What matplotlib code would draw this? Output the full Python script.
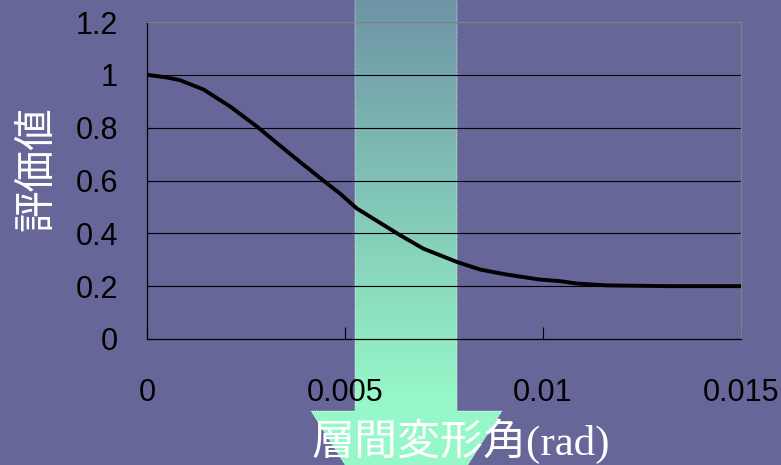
import numpy as np
import matplotlib
matplotlib.use('Agg')
import matplotlib.pyplot as plt
from matplotlib.patches import Polygon

# drift angle (rad) vs. evaluation value
drift = [0, 0.0005, 0.00083, 0.00142, 0.0021, 0.00277, 0.00319, 0.0037, 0.00445,
         0.00487, 0.0053, 0.00571, 0.00639, 0.00698, 0.00782, 0.00841, 0.00908,
         0.00992, 0.01043, 0.01085, 0.0116, 0.0132, 0.015]
score = [1.0, 0.99, 0.98, 0.945, 0.88, 0.805, 0.753, 0.69, 0.60,
         0.551, 0.494, 0.456, 0.393, 0.342, 0.292, 0.263, 0.244,
         0.225, 0.219, 0.21, 0.203, 0.2, 0.2]

xticks = [0, 0.005, 0.01, 0.015]
xticklabels = ["0", "0.005", "0.01", "0.015"]
yticks = [0, 0.2, 0.4, 0.6, 0.8, 1.0, 1.2]
yticklabels = ["0", "0.2", "0.4", "0.6", "0.8", "1", "1.2"]

bg = "#666699"
W, H = 781, 465
fig = plt.figure(figsize=(W / 100, H / 100), dpi=100, facecolor=bg)

# background layer in pixel coords for the big down arrow
ax_bg = fig.add_axes([0, 0, 1, 1], zorder=0)
ax_bg.set_xlim(0, W)
ax_bg.set_ylim(H, 0)
ax_bg.axis("off")
arrow_pts = [(355, -2), (457, -2), (457, 411), (502, 411), (406.5, 562),
             (311, 411), (355, 411)]
arrow = Polygon(arrow_pts, closed=True, facecolor="none", edgecolor="none")
ax_bg.add_patch(arrow)
top_c = np.array([110, 148, 166]) / 255
bot_c = np.array([150, 248, 200]) / 255
t = np.clip(np.linspace(0, 1, 300)[:, None] * 600 / 400, 0, 1)
grad = (top_c[None, :] * (1 - t) + bot_c[None, :] * t)[:, None, :]
im = ax_bg.imshow(grad, extent=[300, 510, 600, 0], aspect="auto", interpolation="bilinear")
im.set_clip_path(arrow)
ax_bg.add_patch(Polygon(arrow_pts, closed=True, facecolor="none", edgecolor="white",
                        linestyle=(0, (1, 1)), linewidth=0.7, alpha=0.7))
ax_bg.set_xlim(0, W)
ax_bg.set_ylim(H, 0)

# main chart
ax = fig.add_axes([147 / W, 1 - 339 / H, 594 / W, 317 / H], zorder=1)
ax.patch.set_alpha(0)
for y in yticks[1:-1]:
    ax.axhline(y, color="black", linewidth=0.8, zorder=1)
ax.plot(drift, score, color="black", linewidth=2.8, solid_capstyle="butt", zorder=3)

ax.set_xlim(0, 0.015)
ax.set_ylim(0, 1.2)
ax.set_xticks(xticks)
ax.set_xticklabels(xticklabels)
ax.set_yticks(yticks)
ax.set_yticklabels(yticklabels)
ax.tick_params(axis="x", direction="in", length=8.6, width=0.8, pad=28,
               labelsize=22, labelcolor="black")
ax.tick_params(axis="y", direction="in", length=3, width=0.8, pad=21,
               labelsize=22, labelcolor="black")
for lab in ax.get_xticklabels() + ax.get_yticklabels():
    lab.set_family("Liberation Sans")
ax.spines["left"].set_color("black")
ax.spines["bottom"].set_color("black")
ax.spines["top"].set_color("#808080")
ax.spines["right"].set_color("#808080")
for s in ax.spines.values():
    s.set_linewidth(0.9)

fig.text(37 / W, 1 - 169 / H, "評価値", rotation=90, ha="center", va="center",
         color="white", fontsize=30, family=["Noto Sans CJK JP", "DejaVu Sans"])
fig.text(461 / W, 1 - 441 / H, "層間変形角(rad)", ha="center", va="center",
         color="white", fontsize=31, family=["Liberation Serif", "Noto Sans CJK JP"])

fig.savefig("out.png", dpi=100, facecolor=bg)
